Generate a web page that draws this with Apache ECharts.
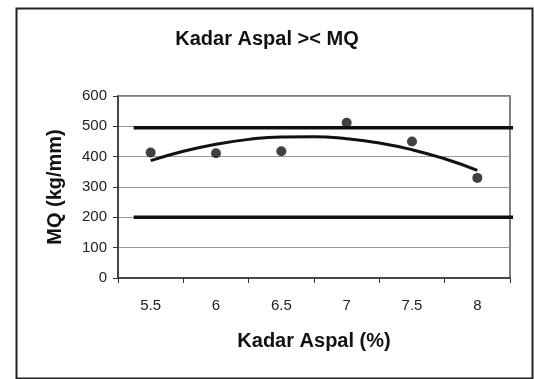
<!DOCTYPE html>
<html>
<head>
<meta charset="utf-8">
<script src="https://cdn.jsdelivr.net/npm/echarts@6/dist/echarts.min.js"></script>
<style>
html,body{margin:0;padding:0;background:#fff;}
#chart{width:534px;height:379px;}
</style>
</head>
<body>
<div id="chart"></div>
<script>
var categories = ['5.5', '6', '6.5', '7', '7.5', '8'];
var mqValues = [414, 411, 418, 512, 450, 330];
var trendX = [5.5, 5.75, 6, 6.25, 6.5, 6.75, 7, 7.25, 7.5, 7.75, 8];
var trendValues = [387, 418, 441, 457, 465, 466, 459, 445, 423, 393, 355];
var limitX = [5.37, 8.3];
var upperLimit = [495, 495];
var lowerLimit = [200, 200];
var yTicks = [0, 100, 200, 300, 400, 500, 600];

var chart = echarts.init(document.getElementById('chart'), null, {renderer: 'canvas'});
var font = 'Liberation Sans, Arial, sans-serif';

function pairs(xs, ys) { return xs.map(function (x, i) { return [x, ys[i]]; }); }

chart.setOption({
  backgroundColor: '#fff',
  animation: false,
  title: {
    text: 'Kadar Aspal >< MQ',
    left: 'center', top: 24,
    textStyle: {fontFamily: font, fontSize: 20, fontWeight: 'bold', color: '#111'}
  },
  graphic: [{
    type: 'rect', left: 14, top: 6,
    shape: {width: 516, height: 370},
    style: {fill: 'none', stroke: '#222', lineWidth: 2}
  }],
  grid: {
    left: 118, right: 24, top: 96, bottom: 101,
    show: true, borderColor: '#555', borderWidth: 1.5, backgroundColor: '#fff'
  },
  xAxis: [{
    type: 'category', data: categories, boundaryGap: true,
    axisLine: {lineStyle: {color: '#333', width: 1.5}},
    axisTick: {show: true, inside: false, length: 5, lineStyle: {color: '#333'}},
    axisLabel: {fontFamily: font, fontSize: 15, color: '#222', margin: 20},
    name: 'Kadar Aspal (%)', nameLocation: 'middle', nameGap: 53,
    nameTextStyle: {fontFamily: font, fontSize: 20, fontWeight: 'bold', color: '#111'}
  }, {
    type: 'value', min: 5.25, max: 8.25, show: false
  }],
  yAxis: {
    type: 'value', min: 0, max: 600, interval: 100,
    axisLine: {show: true, lineStyle: {color: '#333', width: 1.5}},
    axisTick: {show: true, length: 5, lineStyle: {color: '#333'}},
    axisLabel: {fontFamily: font, fontSize: 15, color: '#222', margin: 11,
      formatter: function (v) { return yTicks.indexOf(v) >= 0 ? String(v) : ''; }},
    splitLine: {show: true, lineStyle: {color: '#999', width: 1}},
    name: 'MQ (kg/mm)', nameLocation: 'middle', nameGap: 53,
    nameTextStyle: {fontFamily: font, fontSize: 20, fontWeight: 'bold', color: '#111'}
  },
  series: [{
    type: 'line', xAxisIndex: 1, data: pairs(limitX, upperLimit),
    showSymbol: false, clip: false, lineStyle: {color: '#111', width: 3.5}, silent: true
  }, {
    type: 'line', xAxisIndex: 1, data: pairs(limitX, lowerLimit),
    showSymbol: false, clip: false, lineStyle: {color: '#111', width: 3.5}, silent: true
  }, {
    type: 'line', xAxisIndex: 1, data: pairs(trendX, trendValues), smooth: true,
    showSymbol: false, lineStyle: {color: '#111', width: 3}, silent: true
  }, {
    type: 'scatter', xAxisIndex: 0, data: mqValues,
    symbol: 'circle', symbolSize: 10, itemStyle: {color: '#111'}
  }]
});
</script>
</body>
</html>
